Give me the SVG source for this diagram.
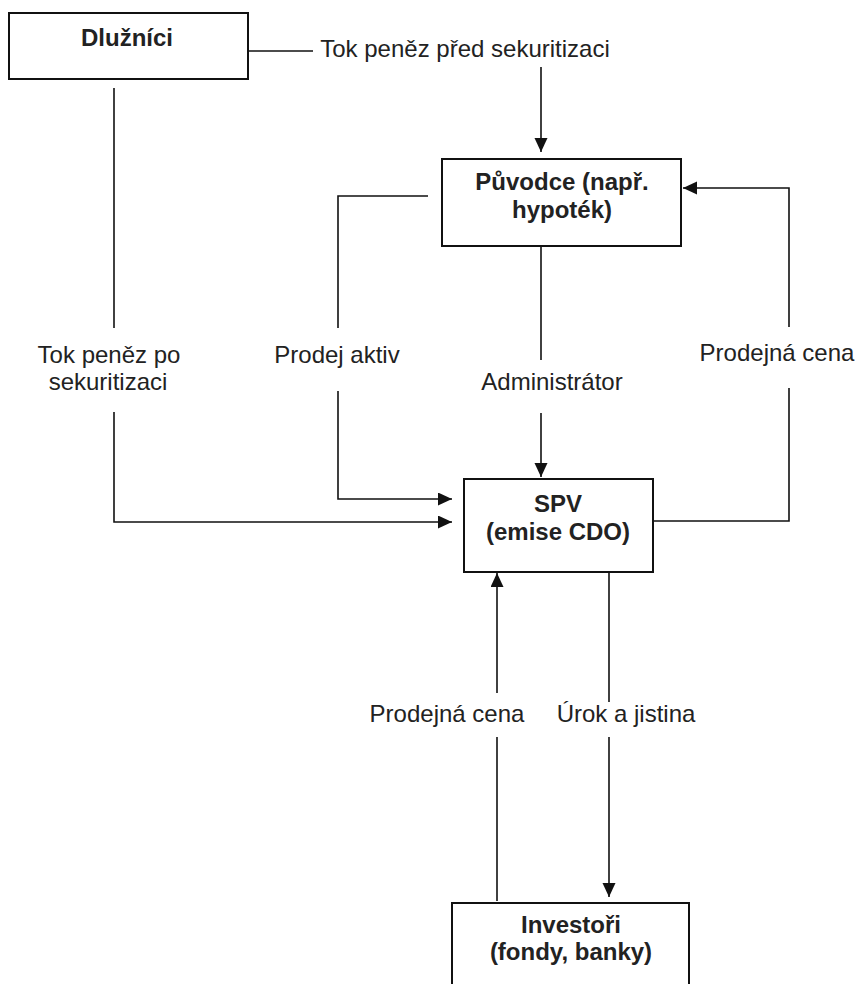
<svg xmlns="http://www.w3.org/2000/svg" width="856" height="984" viewBox="0 0 856 984">
<style>
.box{fill:#fff;stroke:#111;stroke-width:2}
.ln{fill:none;stroke:#111;stroke-width:1.6}
.t{font-family:"Liberation Sans",Arial,sans-serif;font-size:24px;fill:#222;text-anchor:middle}
.b{font-weight:bold}
</style>
<defs>
<marker id="ah" markerUnits="userSpaceOnUse" markerWidth="14" markerHeight="14" refX="14" refY="6.5" orient="auto">
<path d="M0,0 L14,6.5 L0,13 z" fill="#111"/>
</marker>
</defs>
<rect width="856" height="984" fill="#fff"/>
<g id="connectors">
<path class="ln" d="M248,51 H313"/>
<path class="ln" d="M541,67 V152" marker-end="url(#ah)"/>
<path class="ln" d="M114,88 V328"/>
<path class="ln" d="M114,412 V522 H452" marker-end="url(#ah)"/>
<path class="ln" d="M428,196 H338 V328"/>
<path class="ln" d="M338,391 V499 H452" marker-end="url(#ah)"/>
<path class="ln" d="M541,246 V360"/>
<path class="ln" d="M541,413 V477" marker-end="url(#ah)"/>
<path class="ln" d="M653,521 H789 V388"/>
<path class="ln" d="M789,327 V188 H683" marker-end="url(#ah)"/>
<path class="ln" d="M497,901 V737"/>
<path class="ln" d="M497,693 V573" marker-end="url(#ah)"/>
<path class="ln" d="M609,571 V702"/>
<path class="ln" d="M609,737 V897" marker-end="url(#ah)"/>
<text class="t" x="465" y="57">Tok peněz před sekuritizaci</text>
<text class="t" x="109" y="363">Tok peněz po</text>
<text class="t" x="108" y="390">sekuritizaci</text>
<text class="t" x="337" y="363">Prodej aktiv</text>
<text class="t" x="552" y="390">Administrátor</text>
<text class="t" x="777" y="361">Prodejná cena</text>
<text class="t" x="447" y="722">Prodejná cena</text>
<text class="t" x="626" y="722">Úrok a jistina</text>
</g>
<g id="dluznici">
<rect class="box" x="9" y="13" width="239" height="66"/>
<text class="t b" x="127" y="46">Dlužníci</text>
</g>
<g id="puvodce">
<rect class="box" x="442" y="159" width="239" height="87"/>
<text class="t b" x="562" y="190">Původce (např.</text>
<text class="t b" x="562" y="218">hypoték)</text>
</g>
<g id="spv">
<rect class="box" x="464" y="479" width="189" height="93"/>
<text class="t b" x="558" y="512">SPV</text>
<text class="t b" x="558" y="540">(emise CDO)</text>
</g>
<g id="investori">
<rect class="box" x="452" y="903" width="237" height="95"/>
<text class="t b" x="571" y="933">Investoři</text>
<text class="t b" x="571" y="960">(fondy, banky)</text>
</g>
</svg>
